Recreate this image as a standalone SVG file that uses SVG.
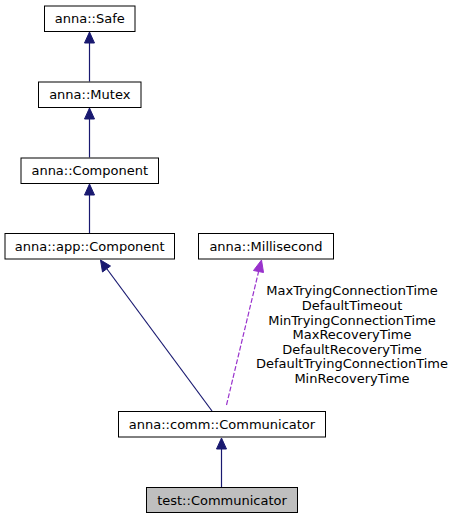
<svg xmlns="http://www.w3.org/2000/svg" width="454" height="519" viewBox="0 0 454 519">
<style>
.box{fill:#fff;stroke:#000;stroke-width:1}
.t{font-family:"DejaVu Sans",sans-serif;font-size:13px;fill:#000;text-anchor:middle}
.inh{stroke:midnightblue;stroke-width:1.2;fill:none}
.use{stroke:darkorchid;stroke-width:1.2;fill:none;stroke-dasharray:5,2}
.ah{fill:midnightblue;stroke:midnightblue}
.ahp{fill:darkorchid;stroke:darkorchid}
</style>
<rect width="454" height="519" fill="#fff"/>
<g id="edges">
<line class="inh" x1="89.5" y1="81.5" x2="89.5" y2="43"/>
<polygon class="ah" points="89.5,32 84.5,43 94.5,43"/>
<line class="inh" x1="89.5" y1="157.5" x2="89.5" y2="119"/>
<polygon class="ah" points="89.5,108 84.5,119 94.5,119"/>
<line class="inh" x1="89.5" y1="233.5" x2="89.5" y2="195"/>
<polygon class="ah" points="89.5,184 84.5,195 94.5,195"/>
<line class="inh" x1="212" y1="411" x2="107" y2="269"/>
<polygon class="ah" points="100.5,260 102.5,272 110.5,266"/>
<line class="use" x1="226.5" y1="405" x2="258.5" y2="272"/>
<polygon class="ahp" points="261.5,260 253.5,270.5 263.5,272.5"/>
<line class="inh" x1="221.5" y1="487" x2="221.5" y2="449"/>
<polygon class="ah" points="221.5,438 216.5,449 226.5,449"/>
<text class="t" x="352" y="295.3">MaxTryingConnectionTime</text>
<text class="t" x="352" y="309.9">DefaultTimeout</text>
<text class="t" x="352" y="324.5">MinTryingConnectionTime</text>
<text class="t" x="352" y="339.1">MaxRecoveryTime</text>
<text class="t" x="352" y="353.7">DefaultRecoveryTime</text>
<text class="t" x="352" y="368.3">DefaultTryingConnectionTime</text>
<text class="t" x="352" y="382.9">MinRecoveryTime</text>
</g>
<g id="safe"><rect class="box" x="44.5" y="6" width="90.5" height="25.5"/><text class="t" x="89.75" y="23.3">anna::Safe</text></g>
<g id="mutex"><rect class="box" x="38.5" y="82" width="102.5" height="25.5"/><text class="t" x="89.75" y="99.3">anna::Mutex</text></g>
<g id="component"><rect class="box" x="21" y="158" width="137.5" height="25.5"/><text class="t" x="89.75" y="175.3">anna::Component</text></g>
<g id="appcomponent"><rect class="box" x="5" y="233.5" width="169.5" height="25.5"/><text class="t" x="89.75" y="250.8">anna::app::Component</text></g>
<g id="millisecond"><rect class="box" x="198.5" y="233.5" width="135" height="25.5"/><text class="t" x="266" y="250.8">anna::Millisecond</text></g>
<g id="commcommunicator"><rect class="box" x="118.5" y="411.5" width="207" height="25.5"/><text class="t" x="222" y="428.8">anna::comm::Communicator</text></g>
<g id="testcommunicator"><rect class="box" x="146.5" y="487.5" width="151" height="25" style="fill:#bfbfbf"/><text class="t" x="222" y="504.6">test::Communicator</text></g>
</svg>
